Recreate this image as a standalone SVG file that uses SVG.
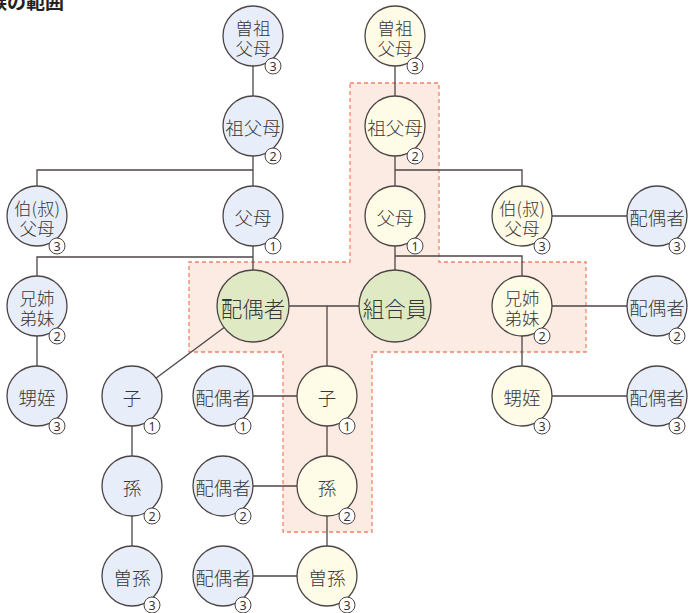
<svg xmlns="http://www.w3.org/2000/svg" width="688" height="613" viewBox="0 0 688 613">
<style>
.t{font-family:"Noto Sans CJK JP","Noto Sans",sans-serif;fill:#3a3535;text-anchor:middle;dominant-baseline:central;font-size:18.5px;font-weight:300}
.s{font-size:17.5px}
.g{font-size:21.5px}
.b{fill:#e7eef9;stroke:#4d4545;stroke-width:1.3}
.y{fill:#fefce6;stroke:#4d4545;stroke-width:1.3}
.gr{fill:#dfeac5;stroke:#4d4545;stroke-width:1.3}
.bd{fill:#fff;stroke:#4d4545;stroke-width:1}
.bt{font-family:"Noto Sans","DejaVu Sans",sans-serif;font-size:12.5px;fill:#3a3535;text-anchor:middle;dominant-baseline:central}
.c{stroke:#4d4545;stroke-width:1.3;fill:none}
</style>
<rect width="688" height="613" fill="#fff"/>
<text x="-12" y="9" style="font-family:'Noto Sans CJK JP',sans-serif;font-weight:bold;font-size:19px;fill:#222">族の範囲</text>
<polygon id="range" points="350,83 439,83 439,262 586,262 586,352 372,352 372,532 283,532 283,352 189,352 189,262 350,262" fill="#fbebe3" stroke="#f08566" stroke-width="1.3" stroke-dasharray="4,3"/>
<g id="connectors" class="c">
<path d="M253,36V216M37,216V170H253M253,216V306M37,306V257H253M37,306V396"/>
<path d="M253,306L132,396M132,396V576"/>
<path d="M253,306H395M327,306V576M223,396H327M223,486H327M223,576H327"/>
<path d="M395,36V306M395,170H522V216M395,256H522V396M522,216H657M522,306H657M522,396H657"/>
</g>
<g id="n1"><circle class="b" cx="253" cy="36" r="30"/><text class="t s"><tspan x="253" y="27">曽祖</tspan><tspan x="253" y="47">父母</tspan></text><circle class="bd" cx="273" cy="66" r="8"/><text class="bt" x="273" y="66">3</text></g>
<g id="n2"><circle class="y" cx="395" cy="36" r="30"/><text class="t s"><tspan x="395" y="27">曽祖</tspan><tspan x="395" y="47">父母</tspan></text><circle class="bd" cx="415" cy="66" r="8"/><text class="bt" x="415" y="66">3</text></g>
<g id="n3"><circle class="b" cx="253" cy="126" r="30"/><text class="t" x="253" y="127">祖父母</text><circle class="bd" cx="273" cy="156" r="8"/><text class="bt" x="273" y="156">2</text></g>
<g id="n4"><circle class="y" cx="395" cy="126" r="30"/><text class="t" x="395" y="127">祖父母</text><circle class="bd" cx="415" cy="156" r="8"/><text class="bt" x="415" y="156">2</text></g>
<g id="n5"><circle class="b" cx="37" cy="216" r="30"/><text class="t s"><tspan x="37" y="207">伯(叔)</tspan><tspan x="37" y="227">父母</tspan></text><circle class="bd" cx="57" cy="246" r="8"/><text class="bt" x="57" y="246">3</text></g>
<g id="n6"><circle class="b" cx="253" cy="216" r="30"/><text class="t" x="253" y="217">父母</text><circle class="bd" cx="273" cy="246" r="8"/><text class="bt" x="273" y="246">1</text></g>
<g id="n7"><circle class="y" cx="395" cy="216" r="30"/><text class="t" x="395" y="217">父母</text><circle class="bd" cx="415" cy="246" r="8"/><text class="bt" x="415" y="246">1</text></g>
<g id="n8"><circle class="y" cx="522" cy="216" r="30"/><text class="t s"><tspan x="522" y="207">伯(叔)</tspan><tspan x="522" y="227">父母</tspan></text><circle class="bd" cx="542" cy="246" r="8"/><text class="bt" x="542" y="246">3</text></g>
<g id="n9"><circle class="b" cx="657" cy="216" r="30"/><text class="t" x="657" y="217">配偶者</text><circle class="bd" cx="677" cy="246" r="8"/><text class="bt" x="677" y="246">3</text></g>
<g id="n10"><circle class="b" cx="37" cy="306" r="30"/><text class="t s"><tspan x="37" y="297">兄姉</tspan><tspan x="37" y="317">弟妹</tspan></text><circle class="bd" cx="57" cy="336" r="8"/><text class="bt" x="57" y="336">2</text></g>
<g id="n11"><circle class="gr" cx="253" cy="306" r="36"/><text class="t g" x="253" y="307">配偶者</text></g>
<g id="n12"><circle class="gr" cx="395" cy="306" r="36"/><text class="t g" x="395" y="307">組合員</text></g>
<g id="n13"><circle class="y" cx="522" cy="306" r="30"/><text class="t s"><tspan x="522" y="297">兄姉</tspan><tspan x="522" y="317">弟妹</tspan></text><circle class="bd" cx="542" cy="336" r="8"/><text class="bt" x="542" y="336">2</text></g>
<g id="n14"><circle class="b" cx="657" cy="306" r="30"/><text class="t" x="657" y="307">配偶者</text><circle class="bd" cx="677" cy="336" r="8"/><text class="bt" x="677" y="336">2</text></g>
<g id="n15"><circle class="b" cx="37" cy="396" r="30"/><text class="t" x="37" y="397">甥姪</text><circle class="bd" cx="57" cy="426" r="8"/><text class="bt" x="57" y="426">3</text></g>
<g id="n16"><circle class="b" cx="132" cy="396" r="30"/><text class="t" x="132" y="397">子</text><circle class="bd" cx="152" cy="426" r="8"/><text class="bt" x="152" y="426">1</text></g>
<g id="n17"><circle class="b" cx="223" cy="396" r="30"/><text class="t" x="223" y="397">配偶者</text><circle class="bd" cx="243" cy="426" r="8"/><text class="bt" x="243" y="426">1</text></g>
<g id="n18"><circle class="y" cx="327" cy="396" r="30"/><text class="t" x="327" y="397">子</text><circle class="bd" cx="347" cy="426" r="8"/><text class="bt" x="347" y="426">1</text></g>
<g id="n19"><circle class="y" cx="522" cy="396" r="30"/><text class="t" x="522" y="397">甥姪</text><circle class="bd" cx="542" cy="426" r="8"/><text class="bt" x="542" y="426">3</text></g>
<g id="n20"><circle class="b" cx="657" cy="396" r="30"/><text class="t" x="657" y="397">配偶者</text><circle class="bd" cx="677" cy="426" r="8"/><text class="bt" x="677" y="426">3</text></g>
<g id="n21"><circle class="b" cx="132" cy="486" r="30"/><text class="t" x="132" y="487">孫</text><circle class="bd" cx="152" cy="516" r="8"/><text class="bt" x="152" y="516">2</text></g>
<g id="n22"><circle class="b" cx="223" cy="486" r="30"/><text class="t" x="223" y="487">配偶者</text><circle class="bd" cx="243" cy="516" r="8"/><text class="bt" x="243" y="516">2</text></g>
<g id="n23"><circle class="y" cx="327" cy="486" r="30"/><text class="t" x="327" y="487">孫</text><circle class="bd" cx="347" cy="516" r="8"/><text class="bt" x="347" y="516">2</text></g>
<g id="n24"><circle class="b" cx="132" cy="576" r="30"/><text class="t" x="132" y="577">曽孫</text><circle class="bd" cx="152" cy="605" r="8"/><text class="bt" x="152" y="605">3</text></g>
<g id="n25"><circle class="b" cx="223" cy="576" r="30"/><text class="t" x="223" y="577">配偶者</text><circle class="bd" cx="243" cy="605" r="8"/><text class="bt" x="243" y="605">3</text></g>
<g id="n26"><circle class="y" cx="327" cy="576" r="30"/><text class="t" x="327" y="577">曽孫</text><circle class="bd" cx="347" cy="605" r="8"/><text class="bt" x="347" y="605">3</text></g>
</svg>
